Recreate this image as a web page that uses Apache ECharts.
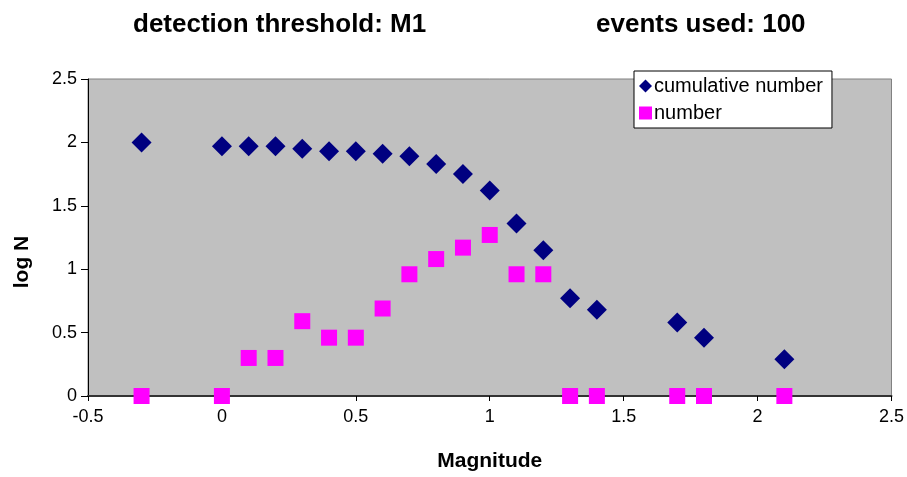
<!DOCTYPE html>
<html>
<head>
<meta charset="utf-8">
<script src="https://cdn.jsdelivr.net/npm/echarts@6/dist/echarts.min.js"></script>
<style>
  html, body { margin: 0; padding: 0; background: #fff; }
  #chart { width: 907px; height: 477px; }
</style>
</head>
<body>
<div id="chart"></div>
<script>
// magnitudes and log N values
const cumMag = [-0.3, 0, 0.1, 0.2, 0.3, 0.4, 0.5, 0.6, 0.7, 0.8, 0.9, 1.0, 1.1, 1.2, 1.3, 1.4, 1.7, 1.8, 2.1];
const cumLogN = [2.0, 1.97, 1.97, 1.97, 1.95, 1.93, 1.93, 1.91, 1.89, 1.83, 1.75, 1.62, 1.36, 1.15, 0.77, 0.68, 0.58, 0.46, 0.29];

const numMag = [-0.3, 0, 0.1, 0.2, 0.3, 0.4, 0.5, 0.6, 0.7, 0.8, 0.9, 1.0, 1.1, 1.2, 1.3, 1.4, 1.7, 1.8, 2.1];
const numLogN = [0, 0, 0.3, 0.3, 0.59, 0.46, 0.46, 0.69, 0.96, 1.08, 1.17, 1.27, 0.96, 0.96, 0, 0, 0, 0, 0];

const titleLeft = 'detection threshold: M1';
const titleRight = 'events used: 100';

const font = 'Liberation Sans, Arial, sans-serif';

function pairs(xs, ys) {
  return xs.map((x, i) => [x, ys[i]]);
}

const chart = echarts.init(document.getElementById('chart'));
chart.setOption({
  animation: false,
  textStyle: { fontFamily: font },
  title: [
    { text: titleLeft, left: 128, top: 7, textStyle: { fontSize: 26, fontWeight: 'bold', color: '#000', fontFamily: font } },
    { text: titleRight, left: 591, top: 7, textStyle: { fontSize: 26, fontWeight: 'bold', color: '#000', fontFamily: font } }
  ],
  graphic: [
    {
      type: 'text',
      x: 22,
      y: 262,
      rotation: Math.PI / 2,
      style: {
        text: 'log N',
        fontFamily: font,
        fontSize: 21,
        fontWeight: 'bold',
        fill: '#000',
        align: 'center',
        verticalAlign: 'middle'
      }
    }
  ],
  legend: {
    orient: 'vertical',
    left: 634,
    top: 71,
    width: 198,
    padding: [5, 9, 5, 5],
    itemGap: 7,
    itemWidth: 13,
    itemHeight: 13,
    backgroundColor: '#fff',
    borderColor: '#000',
    borderWidth: 1,
    textStyle: { fontSize: 20, color: '#000', padding: [0, 0, 0, -3] },
    data: [
      { name: 'cumulative number', icon: 'diamond' },
      { name: 'number', icon: 'rect' }
    ]
  },
  grid: {
    left: 88,
    right: 10,
    top: 79,
    bottom: 76,
    show: true,
    backgroundColor: '#c0c0c0',
    borderColor: '#808080',
    borderWidth: 1
  },
  xAxis: {
    type: 'value',
    min: -0.5,
    max: 2.5,
    interval: 0.5,
    name: 'Magnitude',
    nameLocation: 'middle',
    nameGap: 55,
    nameTextStyle: { fontSize: 21, fontWeight: 'bold', color: '#000' },
    axisLine: { onZero: false, lineStyle: { color: '#333', width: 2 } },
    axisTick: { show: true, length: 5, lineStyle: { color: '#000' } },
    axisLabel: { fontSize: 18, color: '#000', margin: 12 },
    splitLine: { show: false }
  },
  yAxis: {
    type: 'value',
    min: 0,
    max: 2.5,
    interval: 0.5,
    axisLine: { show: true, onZero: false, lineStyle: { color: '#000', width: 1 } },
    axisTick: { show: true, length: 7, lineStyle: { color: '#000' } },
    axisLabel: { fontSize: 18, color: '#000', margin: 11 },
    splitLine: { show: false }
  },
  series: [
    {
      name: 'cumulative number',
      type: 'scatter',
      symbol: 'diamond',
      symbolSize: 20,
      itemStyle: { color: '#000080', opacity: 1 },
      data: pairs(cumMag, cumLogN),
      z: 3
    },
    {
      name: 'number',
      type: 'scatter',
      symbol: 'rect',
      symbolSize: 16,
      itemStyle: { color: '#ff00ff', opacity: 1 },
      data: pairs(numMag, numLogN),
      z: 2
    }
  ]
});
</script>
</body>
</html>
